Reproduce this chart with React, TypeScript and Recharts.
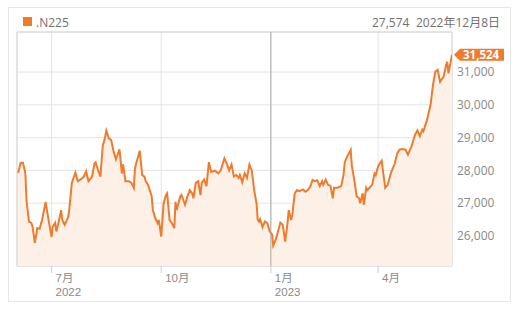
import * as React from "react";
import {
  ComposedChart,
  Area,
  XAxis,
  YAxis,
  CartesianGrid,
  ReferenceLine,
  ReferenceArea,
  ReferenceDot,
} from "recharts";

// days since 2022-06-01, closing values
const days = [
  2, 4, 6, 8, 9, 11, 13, 14, 16, 18, 20, 22, 25, 27, 30, 31, 33, 34, 36, 38, 39, 41, 44, 45, 47, 50,
  52, 55, 57, 59, 61, 64, 66, 67, 69, 71, 73, 74, 76, 78, 80, 82, 84, 87, 89, 90, 92, 95, 97, 99,
  100, 101, 104, 106, 108, 109, 111, 114, 115, 117, 119, 120, 122, 124, 126, 127, 129, 131, 133,
  134, 135, 138, 139, 142, 144, 146, 148, 149, 151, 153, 155, 156, 158, 160, 162, 164, 167, 170,
  172, 175, 177, 179, 181, 183, 185, 187, 188, 190, 192, 194, 196, 198, 200, 202, 203, 204, 205,
  207, 209, 211, 213, 215, 216, 218, 220, 222, 224, 226, 228, 229, 231, 232, 234, 236, 238, 241,
  243, 245, 247, 249, 251, 253, 255, 257, 258, 260, 262, 264, 266, 267, 270, 273, 275, 276, 278,
  281, 282, 284, 286, 288, 289, 291, 292, 294, 295, 297, 299, 301, 302, 304, 306, 307, 308, 310,
  312, 315, 318, 320, 322, 324, 327, 329, 332, 335, 337, 339, 341, 342, 345, 348, 350, 352, 354,
  356, 359, 361, 362, 363, 366,
];
const closes = [
  27920, 28230, 28230, 27920, 27090, 26440, 26400, 26290, 25790, 26240, 26220, 26490, 27040, 26590,
  25970, 26290, 26400, 26140, 26440, 26790, 26490, 26340, 26590, 26860, 27620, 27930, 27670, 27740,
  27810, 27970, 27670, 27810, 28210, 28250, 28000, 27810, 28770, 28870, 29210, 28980, 28930, 28580,
  28340, 28640, 27910, 28180, 27670, 27670, 27620, 27470, 28060, 28210, 28600, 27860, 27810, 27670,
  27560, 27210, 26790, 26540, 26390, 26490, 25980, 26990, 27250, 27300, 26490, 26390, 26240, 27040,
  26790, 27210, 27250, 26950, 27210, 27400, 27300, 27150, 27620, 27670, 27250, 27620, 27720, 27520,
  28250, 27950, 27990, 27910, 28000, 28370, 28210, 28000, 28180, 27810, 27860, 27770, 27860, 27640,
  27910, 27770, 28180, 28000, 27400, 26990, 26490, 26440, 26510, 26270, 26440, 26390, 26140, 26040,
  25710, 25880, 26140, 26410, 26340, 25830, 26390, 26790, 26490, 26640, 27300, 27400, 27370, 27420,
  27350, 27400, 27500, 27710, 27670, 27700, 27520, 27670, 27560, 27720, 27560, 27530, 27150, 27470,
  27470, 27520, 27860, 28250, 28420, 28630, 28120, 27710, 27210, 27150, 27000, 27300, 26950, 27470,
  27400, 27480, 27560, 27910, 27860, 28120, 28250, 28300, 28000, 27470, 27560, 27950, 28210, 28520,
  28630, 28650, 28630, 28480, 28730, 29090, 29220, 29040, 29240, 29190, 29540, 30000, 30600, 31010,
  31060, 30700, 30860, 31210, 31310, 30960, 31524,
];

const xDomain = [1, 366];
const yDomain = [25085, 32220];
const monthTicks = [30, 122, 214, 304];
const monthLabels = ["7月", "10月", "1月", "4月"];
const yearLabels = ["2022", "", "2023", ""];
const yTicks = [26000, 27000, 28000, 29000, 30000, 31000];
const yearBoundary = 214;

const ORANGE = "#ef7b2d";
const FONT = "'Open Sans', 'Noto Sans CJK JP', sans-serif";
const AXIS_FONT = "'Liberation Sans', 'Noto Sans CJK JP', sans-serif";

const data = days.map((d, i) => ({ day: d, close: closes[i] }));
const last = data[data.length - 1];

function MonthTick(props: any) {
  const { x, y, payload } = props;
  const i = monthTicks.indexOf(payload.value);
  return (
    <g fill="#8a8a8a" fontSize={11.5} fontFamily={AXIS_FONT}>
      <text x={x + 4} y={y} dy={8.5}>
        {monthLabels[i]}
      </text>
      {yearLabels[i] && (
        <text x={x + 4} y={y} dy={22.5}>
          {yearLabels[i]}
        </text>
      )}
    </g>
  );
}

function PriceTag(props: any) {
  const { cx, cy } = props;
  const x0 = cx + 2;
  return (
    <g>
      <polygon
        points={`${x0},${cy} ${x0 + 6},${cy - 6} ${x0 + 50},${cy - 6} ${x0 + 50},${cy + 6} ${x0 + 6},${cy + 6}`}
        fill={ORANGE}
      />
      <text
        x={x0 + 9}
        y={cy}
        dy="0.36em"
        fill="#fff"
        fontSize={11.5}
        fontWeight={700}
        fontFamily={FONT}
      >
        {last.close.toLocaleString("en-US")}
      </text>
    </g>
  );
}

export default function App() {
  return (
    <div
      style={{
        position: "absolute",
        left: 0,
        top: 0,
        width: 532,
        height: 310,
        background: "#fff",
        fontFamily: FONT,
      }}
    >
      <div
        style={{
          position: "absolute",
          left: 8,
          top: 7,
          width: 503,
          height: 295,
          border: "1px solid #e6e6e6",
          boxSizing: "border-box",
        }}
      />
      <div
        style={{ position: "absolute", left: 23, top: 17, width: 9, height: 9, background: ORANGE }}
      />
      <div style={{ position: "absolute", left: 36, top: 14, fontSize: 12, color: "#707070" }}>
        .N225
      </div>
      <div style={{ position: "absolute", left: 372, top: 14, fontSize: 12, color: "#707070" }}>
        27,574
      </div>
      <div style={{ position: "absolute", left: 416, top: 13, fontSize: 12, color: "#707070" }}>
        2022年12月8日
      </div>
      <div style={{ position: "absolute", left: 0, top: 0 }}>
        <ComposedChart
          width={532}
          height={310}
          data={data}
          margin={{ top: 32, right: 10, bottom: 10, left: 17 }}
        >
          <CartesianGrid stroke="#e4e4e4" strokeWidth={1} />
          <ReferenceArea
            x1={xDomain[0]}
            x2={xDomain[1]}
            y1={yDomain[0]}
            y2={yDomain[1]}
            fill="none"
            stroke="#d6d6d6"
          />
          <XAxis
            dataKey="day"
            type="number"
            domain={xDomain}
            ticks={monthTicks}
            allowDataOverflow
            height={34}
            axisLine={false}
            tickLine={{ stroke: "#cfcfcf" }}
            tickSize={7}
            tickMargin={0}
            tick={<MonthTick />}
          />
          <YAxis
            orientation="right"
            type="number"
            domain={yDomain}
            ticks={yTicks}
            allowDataOverflow
            width={70}
            axisLine={false}
            tickLine={false}
            tickSize={0}
            tickMargin={5}
            tick={{ fill: "#8a8a8a", fontSize: 12, fontFamily: FONT, textAnchor: "start" }}
            tickFormatter={(v: number) => v.toLocaleString("en-US")}
          />
          <ReferenceLine x={yearBoundary} stroke="#a9a9a9" />
          <Area
            type="linear"
            dataKey="close"
            stroke={ORANGE}
            strokeWidth={2}
            fill="#fdf0e6"
            fillOpacity={1}
            isAnimationActive={false}
            dot={false}
            activeDot={false}
          />
          <ReferenceDot x={last.day} y={last.close} r={0} shape={<PriceTag />} />
        </ComposedChart>
      </div>
    </div>
  );
}
